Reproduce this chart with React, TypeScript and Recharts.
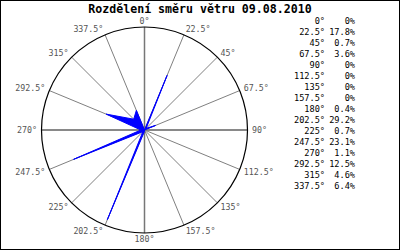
import React from "react";
import {
  RadarChart,
  Radar,
  PolarGrid,
  PolarAngleAxis,
  PolarRadiusAxis,
} from "recharts";

// wind direction sectors (degrees) and share of time in each (%)
const DIRECTIONS = [0, 22.5, 45, 67.5, 90, 112.5, 135, 157.5, 180, 202.5, 225, 247.5, 270, 292.5, 315, 337.5];
const SHARES = [0, 17.8, 0.7, 3.6, 0, 0, 0, 0, 0.4, 29.2, 0.7, 23.1, 1.1, 12.5, 4.6, 6.4];
const TITLE = "Rozdělení směru větru 09.08.2010";

const CX = 144.5;
const CY = 130;
const R = 103;
const MONO = '"DejaVu Sans Mono", "Liberation Mono", monospace';

const data = DIRECTIONS.map((d, i) => ({ dir: `${d}°`, share: SHARES[i] }));

/** Label outside the circle, nudged like the original renderer does */
function DirTick(props: any) {
  const { payload } = props;
  const a = (payload.coordinate * Math.PI) / 180;
  const c = Math.cos(a);
  const s = Math.sin(a);
  const ex = CX + R * c;
  const ey = CY - R * s;
  const anchor = c > 0.1 ? "start" : c < -0.1 ? "end" : "middle";
  return (
    <text
      x={ex + 4.5 * c}
      y={ey - 6.3 * s + 3}
      textAnchor={anchor}
      fontFamily={MONO}
      fontSize={8.3}
      fill="#555"
    >
      {payload.value}
    </text>
  );
}

export default function App() {
  return (
    <div
      style={{
        position: "absolute",
        left: 0,
        top: 0,
        width: 400,
        height: 250,
        background: "#fff",
      }}
    >
      <RadarChart width={400} height={250} data={data} cx={CX} cy={CY} outerRadius={R}>
        <PolarGrid gridType="circle" polarRadius={[]} stroke="#808080" strokeWidth={1} />
        {/* the four main compass lines are heavier */}
        <PolarGrid
          gridType="circle"
          polarRadius={[]}
          polarAngles={[90, 0, -90, 180]}
          stroke="#777"
          strokeWidth={1.5}
        />
        <PolarAngleAxis
          dataKey="dir"
          axisLineType="circle"
          axisLine={{ stroke: "#000", strokeWidth: 1.2 }}
          tickLine={false}
          tick={<DirTick />}
        />
        <PolarRadiusAxis domain={[0, 30.66]} tick={false} axisLine={false} />
        <Radar
          dataKey="share"
          fill="#0000ff"
          fillOpacity={1}
          stroke="#0000ff"
          strokeWidth={1}
          isAnimationActive={false}
        />
      </RadarChart>

      <svg
        width={400}
        height={250}
        style={{ position: "absolute", left: 0, top: 0, pointerEvents: "none" }}
      >
        <rect x={0.5} y={0.5} width={399} height={249} fill="none" stroke="#000" />
        <text
          x={200}
          y={12.7}
          textAnchor="middle"
          fontFamily={MONO}
          fontWeight="bold"
          fontSize={11.6}
          fill="#000"
        >
          {TITLE}
        </text>
        {DIRECTIONS.map((d, i) => {
          const y = 21 + i * 11 + 3;
          return (
            <g key={d} fontFamily={MONO} fontSize={8.6} fill="#000">
              <text x={325} y={y} textAnchor="end">{`${d}°`}</text>
              <text x={355} y={y} textAnchor="end">{`${SHARES[i]}%`}</text>
            </g>
          );
        })}
      </svg>
    </div>
  );
}
